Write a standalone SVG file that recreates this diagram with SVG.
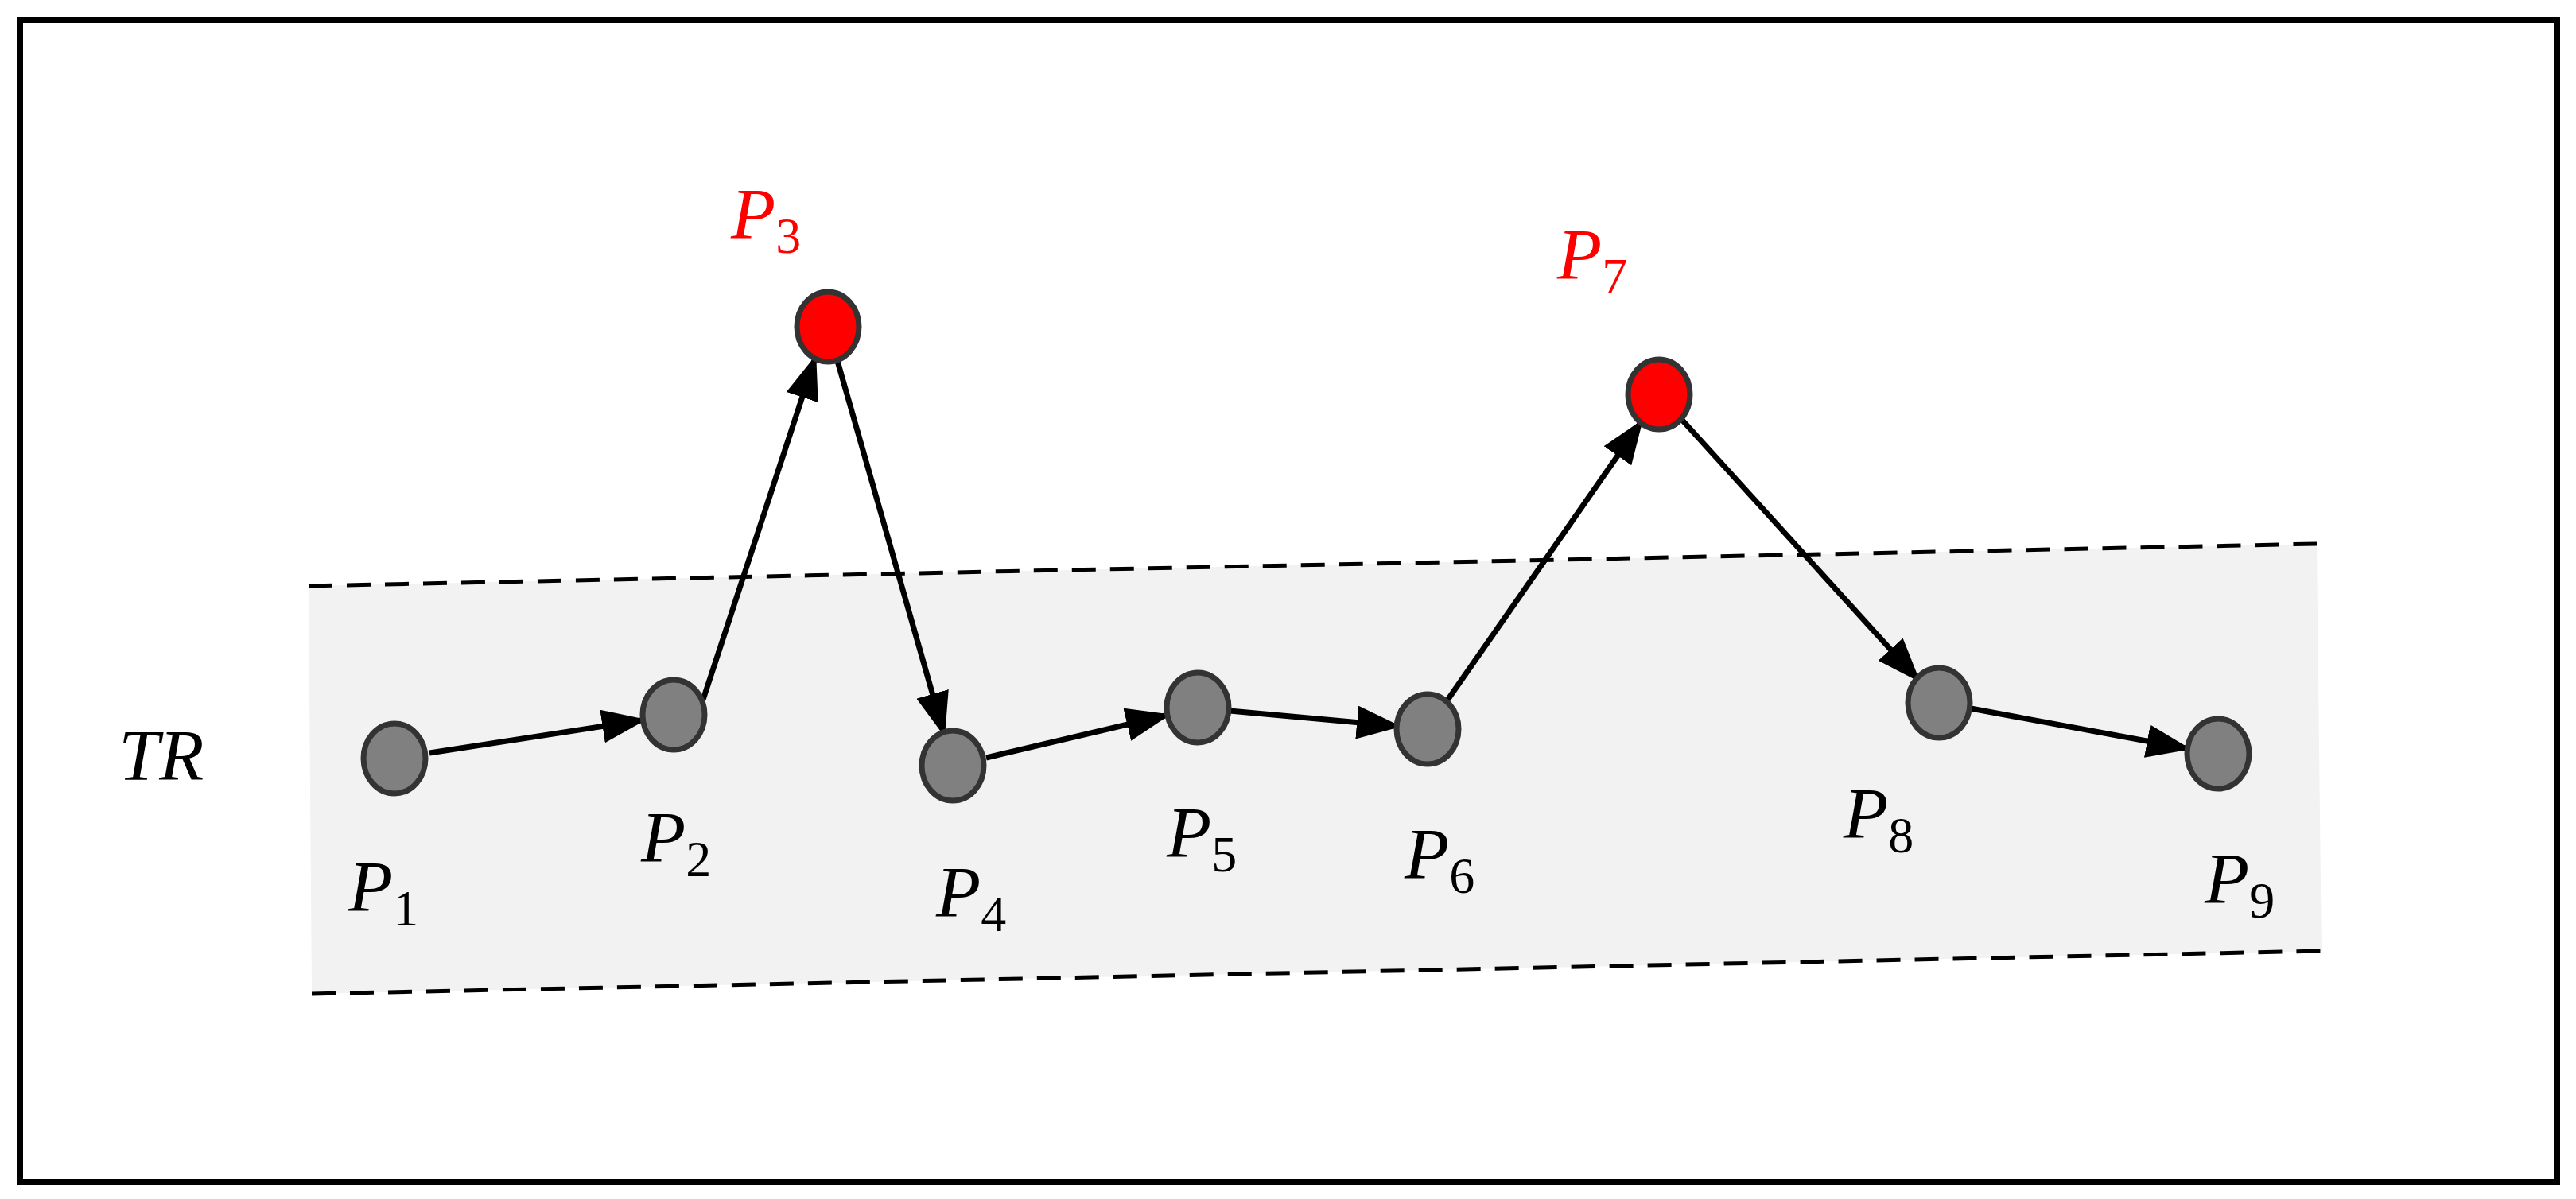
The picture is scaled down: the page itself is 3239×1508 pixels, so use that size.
<svg xmlns="http://www.w3.org/2000/svg" width="3239" height="1508" viewBox="0 0 3239 1508">
<style>
.n{fill:#808080;stroke:#333;stroke-width:7}
.r{fill:#ff0000;stroke:#333;stroke-width:7}
.e{stroke:#000;stroke-width:7;fill:none;marker-end:url(#a)}
.d{stroke:#000;stroke-width:5;stroke-dasharray:30,18;fill:none}
.t{font-family:"Liberation Serif",serif;font-style:italic;font-size:92px;fill:#000}
.s{font-size:64px;font-style:normal}
.red{fill:#ff0000}
</style>
<defs><marker id="a" markerWidth="8" markerHeight="6" refX="7" refY="3" orient="auto"><path d="M0,0L8,3L0,6z" fill="#000"/></marker></defs>
<rect x="25" y="25" width="3190" height="1462" fill="#fff" stroke="#000" stroke-width="8"/>
<g id="band">
<polygon points="388,737 2913,684 2919,1196 392,1250" fill="#f2f2f2"/>
<line class="d" x1="388" y1="737" x2="2913" y2="684"/>
<line class="d" x1="392" y1="1250" x2="2919" y2="1196"/>
</g>
<g id="connectors">
<line class="e" x1="540" y1="947" x2="806" y2="906"/>
<line class="e" x1="884" y1="880" x2="1024" y2="453"/>
<line class="e" x1="1053" y1="454" x2="1186" y2="920"/>
<line class="e" x1="1240" y1="953" x2="1465" y2="900"/>
<line class="e" x1="1546" y1="894" x2="1755" y2="913"/>
<line class="e" x1="1819" y1="882" x2="2062" y2="533"/>
<line class="e" x1="2114" y1="527" x2="2410" y2="853"/>
<line class="e" x1="2478" y1="891" x2="2748" y2="941"/>
</g>
<g id="P1"><ellipse class="n" cx="496" cy="954" rx="39" ry="44"/><text class="t" x="438" y="1146">P<tspan class="s" dy="18">1</tspan></text></g>
<g id="P2"><ellipse class="n" cx="847" cy="899" rx="39" ry="44"/><text class="t" x="806" y="1084">P<tspan class="s" dy="18">2</tspan></text></g>
<g id="P3"><ellipse class="r" cx="1041" cy="411" rx="39" ry="44"/><text class="t red" x="919" y="300">P<tspan class="s" dy="18">3</tspan></text></g>
<g id="P4"><ellipse class="n" cx="1198" cy="963" rx="39" ry="44"/><text class="t" x="1177" y="1153">P<tspan class="s" dy="18">4</tspan></text></g>
<g id="P5"><ellipse class="n" cx="1506" cy="890" rx="39" ry="44"/><text class="t" x="1467" y="1078">P<tspan class="s" dy="18">5</tspan></text></g>
<g id="P6"><ellipse class="n" cx="1795" cy="917" rx="39" ry="44"/><text class="t" x="1766" y="1105">P<tspan class="s" dy="18">6</tspan></text></g>
<g id="P7"><ellipse class="r" cx="2086" cy="496" rx="39" ry="44"/><text class="t red" x="1958" y="351">P<tspan class="s" dy="18">7</tspan></text></g>
<g id="P8"><ellipse class="n" cx="2438" cy="884" rx="39" ry="44"/><text class="t" x="2318" y="1054">P<tspan class="s" dy="18">8</tspan></text></g>
<g id="P9"><ellipse class="n" cx="2789" cy="948" rx="39" ry="44"/><text class="t" x="2772" y="1136">P<tspan class="s" dy="18">9</tspan></text></g>
<g id="TR"><text class="t" x="149" y="981">TR</text></g>
</svg>
